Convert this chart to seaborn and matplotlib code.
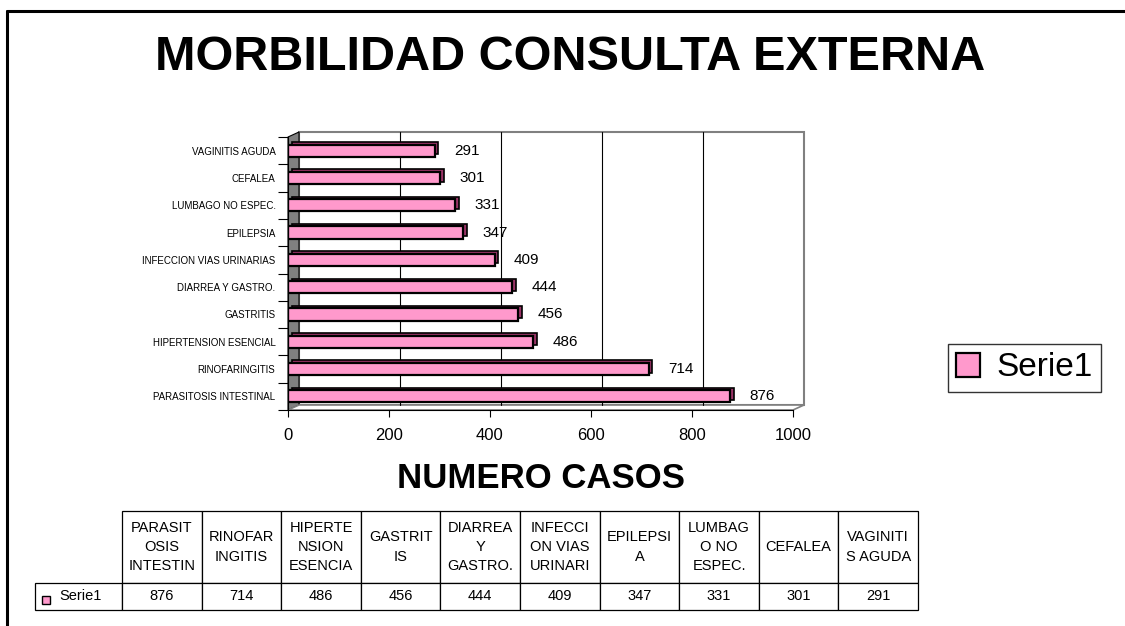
import numpy as np
import pandas as pd
import seaborn as sns
import matplotlib.pyplot as plt
import matplotlib.transforms as mtransforms
from matplotlib.lines import Line2D
from matplotlib.patches import Rectangle, Polygon
from matplotlib.table import Table

diagnosticos = ['PARASITOSIS INTESTINAL', 'RINOFARINGITIS', 'HIPERTENSION ESENCIAL', 'GASTRITIS',
                'DIARREA Y GASTRO.', 'INFECCION VIAS URINARIAS', 'EPILEPSIA', 'LUMBAGO NO ESPEC.',
                'CEFALEA', 'VAGINITIS AGUDA']
casos = [876, 714, 486, 456, 444, 409, 347, 331, 301, 291]
encabezados = ['PARASIT\nOSIS\nINTESTIN', 'RINOFAR\nINGITIS', 'HIPERTE\nNSION\nESENCIA', 'GASTRIT\nIS',
               'DIARREA\nY\nGASTRO.', 'INFECCI\nON VIAS\nURINARI', 'EPILEPSI\nA', 'LUMBAG\nO NO\nESPEC.',
               'CEFALEA', 'VAGINITI\nS AGUDA']
x_ticks = [0, 200, 400, 600, 800, 1000]
serie = 'Serie1'

rosa = '#FF99CC'
malva = '#993366'

df = pd.DataFrame({'diagnostico': diagnosticos, 'casos': casos})
orden = diagnosticos[::-1]

sns.set_style('white')
plt.rcParams['font.family'] = ['Liberation Sans', 'DejaVu Sans']
plt.rcParams['text.color'] = 'black'
plt.rcParams['xtick.color'] = 'black'
plt.rcParams['ytick.color'] = 'black'
plt.rcParams['axes.labelcolor'] = 'black'

W, H = 1125, 626
fig = plt.figure(figsize=(11.25, 6.26), dpi=100)
ax = fig.add_axes([288 / W, 1 - 410 / H, 505 / W, 273 / H])

# profundidad 3D (pared, piso y fondo desplazados)
dx, dy = 11 / 505, 5 / 273
ax.add_patch(Polygon([(0, 0), (0, 1), (dx, 1 + dy), (dx, dy)], closed=True, transform=ax.transAxes,
                     facecolor='#808080', edgecolor='black', lw=0.8, clip_on=False, zorder=0.4))
ax.add_patch(Polygon([(0, 0), (1, 0), (1 + dx, dy), (dx, dy)], closed=True, transform=ax.transAxes,
                     facecolor='white', edgecolor='#808080', lw=1.2, clip_on=False, zorder=0.4))
ax.add_patch(Rectangle((dx, dy), 1, 1, transform=ax.transAxes, fill=False, edgecolor='#808080',
                       lw=1.5, clip_on=False, zorder=0.3))
for v in x_ticks[1:-1]:
    ax.plot([v / 1000 + dx] * 2, [dy, 1 + dy], transform=ax.transAxes, color='black', lw=0.8,
            clip_on=False, zorder=0.5)

# barras: cara oscura + frente rosa
sns.barplot(data=df, x='casos', y='diagnostico', order=orden, color=malva, width=0.45,
            saturation=1, edgecolor='black', linewidth=1.2, errorbar=None, ax=ax)
sombra = ax.transData + mtransforms.ScaledTranslation(3.5 / 100, 2.5 / 100, fig.dpi_scale_trans)
for p in ax.containers[0]:
    p.set_transform(sombra)
sns.barplot(data=df, x='casos', y='diagnostico', order=orden, color=rosa, width=0.45,
            saturation=1, edgecolor='black', linewidth=1.6, errorbar=None, label=serie, ax=ax)
if ax.get_legend() is not None:
    ax.get_legend().remove()
ax.bar_label(ax.containers[1], padding=14, fontsize=11)

ax.set_xlim(0, 1000)
ax.set_xticks(x_ticks)
ax.set_xlabel('')
ax.set_ylabel('')
ax.tick_params(axis='x', labelsize=12, length=5, width=0.8, direction='out', bottom=True, pad=8)
ax.tick_params(axis='y', which='major', labelsize=7, length=0, pad=9)
ax.set_yticks(np.arange(-0.5, len(diagnosticos), 1), minor=True)
ax.tick_params(axis='y', which='minor', length=7, width=0.8, direction='out', left=True)
for s in ['top', 'right']:
    ax.spines[s].set_visible(False)
for s in ['left', 'bottom']:
    ax.spines[s].set_color('black')
    ax.spines[s].set_linewidth(0.8)
ax.patch.set_alpha(0)

fig.text(570 / W, 1 - 58 / H, 'MORBILIDAD CONSULTA EXTERNA', ha='center', va='center',
         fontsize=35, fontweight='bold')
fig.text(541 / W, 1 - 479 / H, 'NUMERO CASOS', ha='center', va='center',
         fontsize=25, fontweight='bold')

leg = fig.legend(handles=[ax.containers[1]], labels=[serie], loc='center left',
                 bbox_to_anchor=(948 / W, 1 - 368 / H), fontsize=24, frameon=True, fancybox=False,
                 edgecolor='black', borderpad=0.25, handlelength=0.7, handleheight=0.7,
                 handletextpad=0.5, borderaxespad=0)
leg.get_frame().set_linewidth(1)

# tabla de datos (columna 0 = etiqueta de la serie, sin celda de esquina)
ax_t = fig.add_axes([35 / W, 1 - 610 / H, 883 / W, 99 / H])
ax_t.axis('off')
tbl = Table(ax_t, bbox=[0, 0, 1, 1])
wl = 87 / 883
wc = (1 - wl) / len(casos)
hh, hd = 72 / 99, 27 / 99
for j, h in enumerate(encabezados):
    c = tbl.add_cell(0, j + 1, wc, hh, text=h, loc='center')
    c.get_text().set_linespacing(1.5)
for j, v in enumerate(casos):
    tbl.add_cell(1, j + 1, wc, hd, text=str(v), loc='center')
c = tbl.add_cell(1, 0, wl, hd, text=serie, loc='left')
c.PAD = 0.28
tbl.auto_set_font_size(False)
tbl.set_fontsize(10.5)
for cell in tbl.get_celld().values():
    cell.set_linewidth(0.9)
    cell.set_edgecolor('black')
ax_t.add_table(tbl)
ax_t.add_patch(Rectangle((7 / 883, 6.5 / 99), 8 / 883, 8 / 99, transform=ax_t.transAxes,
                         facecolor=rosa, edgecolor='black', lw=1, clip_on=False, zorder=5))

# marco exterior
fig.add_artist(Line2D([7 / W, 7 / W], [0, 1 - 11 / H], transform=fig.transFigure, color='black', lw=2.2))
fig.add_artist(Line2D([7 / W, 1], [1 - 11 / H, 1 - 11 / H], transform=fig.transFigure, color='black', lw=2.2))

fig.savefig('out.png', dpi=100)
